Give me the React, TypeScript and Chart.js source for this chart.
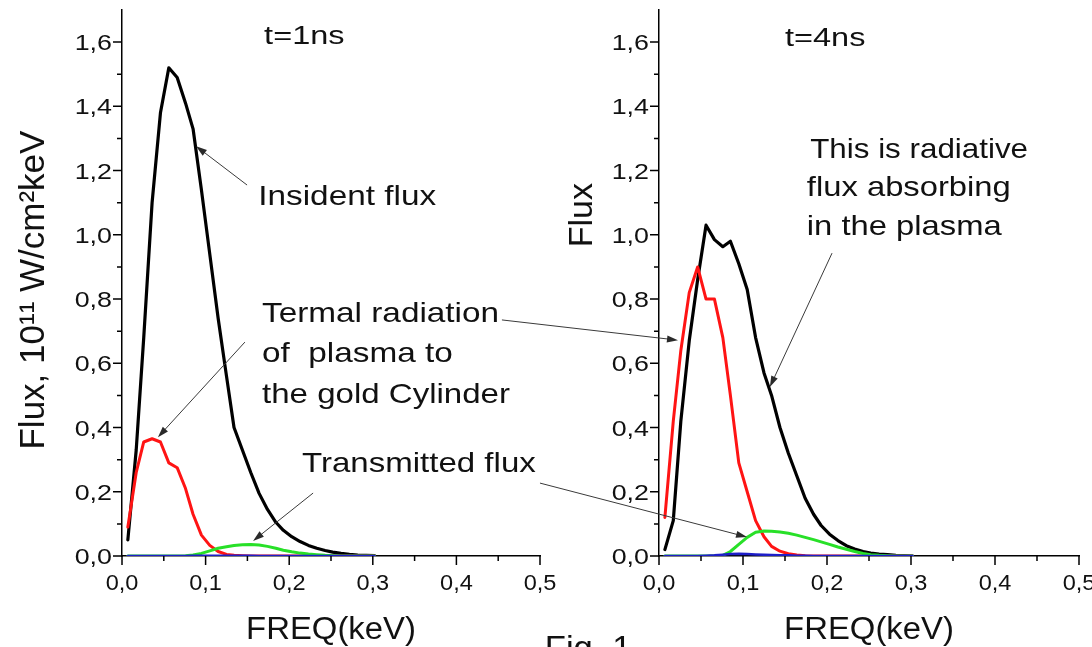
import React, { useEffect, useRef } from 'react';
import { Chart, registerables } from 'chart.js';

Chart.register(...registerables);

// ---------- data ----------
const FREQ = [0.007, 0.017, 0.026, 0.036, 0.046, 0.056, 0.066, 0.076, 0.085, 0.095, 0.105, 0.115, 0.125, 0.134, 0.144, 0.154, 0.164, 0.174, 0.184, 0.193, 0.203, 0.213, 0.223, 0.233, 0.243, 0.252, 0.262, 0.272, 0.282, 0.292, 0.302];

// t = 1 ns
const INCIDENT_1NS = [0.05, 0.33, 0.68, 1.10, 1.38, 1.52, 1.49, 1.41, 1.33, 1.14, 0.94, 0.74, 0.56, 0.40, 0.33, 0.26, 0.195, 0.145, 0.105, 0.08, 0.06, 0.045, 0.033, 0.024, 0.017, 0.012, 0.008, 0.005, 0.003, 0.002, 0.001];
const THERMAL_1NS = [0.09, 0.26, 0.355, 0.365, 0.355, 0.29, 0.275, 0.21, 0.13, 0.065, 0.033, 0.014, 0.005, 0.002, 0.001, 0, 0, 0, 0, 0, 0, 0, 0, 0, 0, 0, 0, 0, 0, 0, 0];
const TRANSMITTED_1NS = [0, 0, 0, 0, 0, 0, 0, 0.001, 0.003, 0.008, 0.016, 0.024, 0.029, 0.033, 0.035, 0.036, 0.034, 0.030, 0.024, 0.018, 0.013, 0.009, 0.006, 0.004, 0.002, 0.001, 0, 0, 0, 0, 0];
const BASELINE_1NS = [0, 0, 0, 0, 0, 0, 0, 0, 0.001, 0.001, 0.001, 0.001, 0.001, 0.001, 0.001, 0.001, 0, 0, 0, 0, 0, 0, 0, 0, 0, 0, 0, 0, 0, 0, 0];

// t = 4 ns
const INCIDENT_4NS = [0.02, 0.11, 0.42, 0.67, 0.86, 1.03, 0.985, 0.963, 0.98, 0.91, 0.83, 0.68, 0.57, 0.50, 0.40, 0.32, 0.25, 0.18, 0.13, 0.095, 0.068, 0.048, 0.032, 0.022, 0.014, 0.009, 0.006, 0.004, 0.002, 0.001, 0];
const THERMAL_4NS = [0.12, 0.42, 0.64, 0.82, 0.90, 0.80, 0.80, 0.68, 0.50, 0.29, 0.20, 0.11, 0.06, 0.03, 0.015, 0.007, 0.003, 0.001, 0, 0, 0, 0, 0, 0, 0, 0, 0, 0, 0, 0, 0];
const TRANSMITTED_4NS = [0, 0, 0, 0, 0, 0, 0, 0.002, 0.014, 0.036, 0.058, 0.074, 0.078, 0.077, 0.075, 0.071, 0.065, 0.058, 0.051, 0.044, 0.036, 0.028, 0.021, 0.014, 0.008, 0.004, 0.002, 0.001, 0, 0, 0];
const BASELINE_4NS = [0, 0, 0, 0, 0, 0.001, 0.002, 0.004, 0.006, 0.007, 0.006, 0.005, 0.004, 0.003, 0.002, 0.002, 0.001, 0.001, 0, 0, 0, 0, 0, 0, 0, 0, 0, 0, 0, 0, 0];

// ---------- axes ----------
const X_MAJOR = [0, 0.1, 0.2, 0.3, 0.4, 0.5];
const X_MINOR = [0.05, 0.15, 0.25, 0.35, 0.45];
const Y_MAJOR = [0, 0.2, 0.4, 0.6, 0.8, 1.0, 1.2, 1.4, 1.6];
const Y_MINOR = [0.1, 0.3, 0.5, 0.7, 0.9, 1.1, 1.3, 1.5];
const X_MIN = 0;
const X_MAX = 0.5;
const Y_MIN = 0;
const Y_MAX = 1.7;
const X_TITLE = 'FREQ(keV)';

const COLORS = {
  incident: '#000000',
  thermal: '#ff1414',
  transmitted: '#28e028',
  baseline: '#1e1ec8',
};

const W = 1092;
const H = 647;
const FONT = '"Liberation Sans", Arial, Helvetica, sans-serif';

const fmt = (v: number) => v.toFixed(1).replace('.', ',');

type Label = { text: string; f: number; v: number; size: number; sx: number };
type Arrow = { f1: number; v1: number; f2: number; v2: number };
type Panel = {
  series: { data: number[]; color: string; width: number }[];
  padding: { left: number; right: number; top: number; bottom: number };
  yTitle: { text: string; v: number; dx: number; size: number };
  labels: Label[];
  arrows: Arrow[];
};

const LEFT: Panel = {
  // first dataset is drawn on top
  series: [
    { data: BASELINE_1NS, color: COLORS.baseline, width: 2.5 },
    { data: TRANSMITTED_1NS, color: COLORS.transmitted, width: 3 },
    { data: THERMAL_1NS, color: COLORS.thermal, width: 3 },
    { data: INCIDENT_1NS, color: COLORS.incident, width: 3.2 },
  ],
  padding: { left: 122, right: W - 540, top: 10, bottom: H - 556 },
  yTitle: { text: 'Flux, 10¹¹ W/cm²keV', v: 0.828, dx: -78, size: 35 },
  labels: [
    { text: 't=1ns', f: 0.17, v: 1.594, size: 26, sx: 1.25 },
    { text: 'Insident flux', f: 0.163, v: 1.093, size: 28, sx: 1.19 },
    { text: 'Termal radiation', f: 0.1675, v: 0.728, size: 28, sx: 1.19 },
    { text: 'of  plasma to', f: 0.1675, v: 0.604, size: 28, sx: 1.19 },
    { text: 'the gold Cylinder', f: 0.1675, v: 0.476, size: 28, sx: 1.18 },
    { text: 'Transmitted flux', f: 0.2153, v: 0.261, size: 28, sx: 1.18 },
  ],
  arrows: [
    { f1: 0.1496, v1: 1.155, f2: 0.0886, v2: 1.276 },
    { f1: 0.147, v1: 0.666, f2: 0.043, v2: 0.37 },
    { f1: 0.2286, v1: 0.196, f2: 0.1568, v2: 0.047 },
  ],
};

const RIGHT: Panel = {
  series: [
    { data: BASELINE_4NS, color: COLORS.baseline, width: 2.5 },
    { data: TRANSMITTED_4NS, color: COLORS.transmitted, width: 3 },
    { data: THERMAL_4NS, color: COLORS.thermal, width: 3 },
    { data: INCIDENT_4NS, color: COLORS.incident, width: 3.2 },
  ],
  padding: { left: 659, right: W - 1079, top: 10, bottom: H - 556 },
  yTitle: { text: 'Flux', v: 1.061, dx: -67, size: 34 },
  labels: [
    { text: 't=4ns', f: 0.15, v: 1.588, size: 26, sx: 1.25 },
    { text: 'This is radiative', f: 0.18, v: 1.239, size: 28, sx: 1.12 },
    { text: 'flux absorbing', f: 0.176, v: 1.121, size: 28, sx: 1.17 },
    { text: 'in the plasma', f: 0.176, v: 0.999, size: 28, sx: 1.17 },
    { text: 'Fig. 1', f: -0.136, v: -0.32, size: 33, sx: 1.05 },
  ],
  arrows: [
    { f1: 0.206, v1: 0.943, f2: 0.132, v2: 0.526 },
    { f1: -0.187, v1: 0.735, f2: 0.0226, v2: 0.672 },
    { f1: -0.1417, v1: 0.227, f2: 0.1048, v2: 0.059 },
  ],
};

function drawText(
  ctx: CanvasRenderingContext2D,
  str: string,
  x: number,
  y: number,
  size: number,
  sx: number,
  align: CanvasTextAlign = 'left'
) {
  ctx.save();
  ctx.font = `${size}px ${FONT}`;
  ctx.textAlign = align;
  ctx.textBaseline = 'alphabetic';
  ctx.fillStyle = '#111';
  ctx.translate(x, y);
  ctx.scale(sx, 1);
  ctx.fillText(str, 0, 0);
  ctx.restore();
}

function drawArrow(ctx: CanvasRenderingContext2D, x1: number, y1: number, x2: number, y2: number) {
  const ang = Math.atan2(y2 - y1, x2 - x1);
  const len = 11;
  const hw = 3.5;
  ctx.save();
  ctx.strokeStyle = '#3a3a3a';
  ctx.fillStyle = '#2a2a2a';
  ctx.lineWidth = 1;
  ctx.beginPath();
  ctx.moveTo(x1, y1);
  ctx.lineTo(x2 - Math.cos(ang) * (len - 2), y2 - Math.sin(ang) * (len - 2));
  ctx.stroke();
  ctx.beginPath();
  ctx.moveTo(x2, y2);
  ctx.lineTo(x2 - Math.cos(ang) * len - Math.sin(ang) * hw, y2 - Math.sin(ang) * len + Math.cos(ang) * hw);
  ctx.lineTo(x2 - Math.cos(ang) * len + Math.sin(ang) * hw, y2 - Math.sin(ang) * len - Math.cos(ang) * hw);
  ctx.closePath();
  ctx.fill();
  ctx.restore();
}

function decorPlugin(panel: Panel) {
  return {
    id: 'decor',
    afterDraw(chart: any) {
      const { ctx, chartArea: ca, scales } = chart;
      const xs = scales.x;
      const ys = scales.y;
      ctx.save();
      // tick marks
      ctx.strokeStyle = '#000';
      ctx.lineWidth = 1.5;
      ctx.beginPath();
      for (const v of Y_MAJOR) {
        const y = ys.getPixelForValue(v);
        ctx.moveTo(ca.left - 9, y);
        ctx.lineTo(ca.left, y);
      }
      for (const v of Y_MINOR) {
        const y = ys.getPixelForValue(v);
        ctx.moveTo(ca.left - 5, y);
        ctx.lineTo(ca.left, y);
      }
      for (const f of X_MAJOR) {
        const x = xs.getPixelForValue(f);
        ctx.moveTo(x, ca.bottom);
        ctx.lineTo(x, ca.bottom + 9);
      }
      for (const f of X_MINOR) {
        const x = xs.getPixelForValue(f);
        ctx.moveTo(x, ca.bottom);
        ctx.lineTo(x, ca.bottom + 5);
      }
      ctx.stroke();
      ctx.restore();

      // tick labels
      for (const v of Y_MAJOR) {
        drawText(ctx, fmt(v), ca.left - 10, ys.getPixelForValue(v) + 8, 22, 1.22, 'right');
      }
      for (const f of X_MAJOR) {
        drawText(ctx, fmt(f), xs.getPixelForValue(f), ca.bottom + 34, 22, 1.07, 'center');
      }

      // axis titles
      drawText(ctx, X_TITLE, (ca.left + ca.right) / 2, ca.bottom + 83, 31, 1.06, 'center');
      ctx.save();
      ctx.translate(ca.left + panel.yTitle.dx, ys.getPixelForValue(panel.yTitle.v));
      ctx.rotate(-Math.PI / 2);
      ctx.font = `${panel.yTitle.size}px ${FONT}`;
      ctx.textAlign = 'center';
      ctx.textBaseline = 'alphabetic';
      ctx.fillStyle = '#111';
      ctx.fillText(panel.yTitle.text, 0, 0);
      ctx.restore();

      // annotations
      for (const l of panel.labels) {
        drawText(ctx, l.text, xs.getPixelForValue(l.f), ys.getPixelForValue(l.v), l.size, l.sx, 'left');
      }
      for (const a of panel.arrows) {
        drawArrow(
          ctx,
          xs.getPixelForValue(a.f1),
          ys.getPixelForValue(a.v1),
          xs.getPixelForValue(a.f2),
          ys.getPixelForValue(a.v2)
        );
      }
    },
  };
}

function makeConfig(panel: Panel): any {
  return {
    type: 'line',
    data: {
      datasets: panel.series.map((s) => ({
        data: FREQ.map((f, i) => ({ x: f, y: s.data[i] })),
        borderColor: s.color,
        borderWidth: s.width,
        pointRadius: 0,
        tension: 0,
        fill: false,
        borderJoinStyle: 'round',
        borderCapStyle: 'round',
      })),
    },
    options: {
      responsive: false,
      maintainAspectRatio: false,
      animation: false,
      events: [],
      layout: { padding: panel.padding },
      plugins: {
        legend: { display: false },
        tooltip: { enabled: false },
        title: { display: false },
      },
      scales: {
        x: {
          type: 'linear',
          min: X_MIN,
          max: X_MAX,
          grid: { display: false },
          border: { display: true, color: '#000', width: 1.5 },
          ticks: { display: false },
          afterFit: (s: any) => {
            s.height = 0;
          },
        },
        y: {
          type: 'linear',
          min: Y_MIN,
          max: Y_MAX,
          grid: { display: false },
          border: { display: true, color: '#000', width: 1.5 },
          ticks: { display: false },
          afterFit: (s: any) => {
            s.width = 0;
          },
        },
      },
    },
    plugins: [decorPlugin(panel)],
  };
}

export default function App() {
  const leftRef = useRef<HTMLCanvasElement>(null);
  const rightRef = useRef<HTMLCanvasElement>(null);

  useEffect(() => {
    const charts: Chart[] = [];
    if (leftRef.current) charts.push(new Chart(leftRef.current, makeConfig(LEFT)));
    if (rightRef.current) charts.push(new Chart(rightRef.current, makeConfig(RIGHT)));
    return () => charts.forEach((c) => c.destroy());
  }, []);

  return (
    <div style={{ position: 'absolute', left: 0, top: 0, width: W, height: H, background: '#fff', overflow: 'hidden' }}>
      <canvas ref={leftRef} width={W} height={H} style={{ position: 'absolute', left: 0, top: 0 }} />
      <canvas ref={rightRef} width={W} height={H} style={{ position: 'absolute', left: 0, top: 0 }} />
    </div>
  );
}
